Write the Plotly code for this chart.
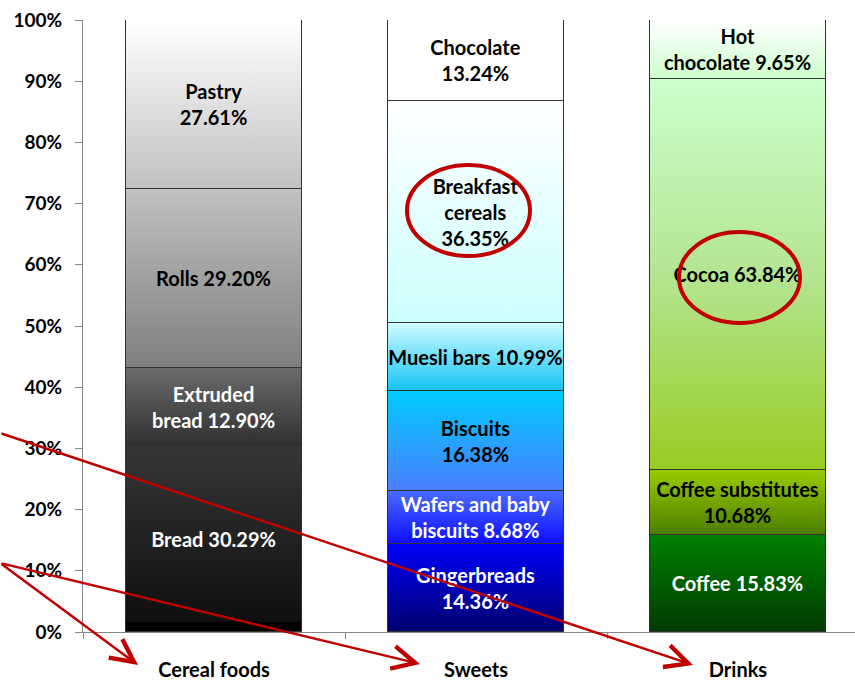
import plotly.graph_objects as go

# ---------------- data ----------------
categories = ["Cereal foods", "Sweets", "Drinks"]

cereal_labels = ["Bread", "Extruded<br>bread", "Rolls", "Pastry<br>"]
cereal_values = [30.29, 12.90, 29.20, 27.61]

sweets_labels = ["Gingerbreads<br>", "Wafers and baby<br>biscuits", "Biscuits<br>",
                 "Muesli bars", "Breakfast<br>cereals<br>", "Chocolate<br>"]
sweets_values = [14.36, 8.68, 16.38, 10.99, 36.35, 13.24]

drinks_labels = ["Coffee", "Coffee substitutes<br>", "Cocoa", "Hot<br>chocolate"]
drinks_values = [15.83, 10.68, 63.84, 9.65]

y_ticks = [0, 10, 20, 30, 40, 50, 60, 70, 80, 90, 100]
y_tick_text = [f"{t}%" for t in y_ticks]

# ---------------- styles ----------------
W, H = 855, 680
ML, MR, MT, MB = 83, 0, 20, 48
BAR_W = 0.672
XR = [-0.5, -0.5 + (W - ML - MR) / 262.0]
FONT = "Lato"

grad_styles = [
    [  # cereal foods
        [[0, "#000000"], [0.05, "#000000"], [0.06, "#0f0f0f"], [1, "#363636"]],
        [[0, "#2f2f2f"], [1, "#6b6b6b"]],
        [[0, "#7f7f7f"], [1, "#c1c1c1"]],
        [[0, "#c0c0c0"], [1, "#ffffff"]],
    ],
    [  # sweets
        [[0, "#00006e"], [1, "#0000fa"]],
        [[0, "#0d0dff"], [1, "#4a6bff"]],
        [[0, "#4a7dff"], [1, "#00ccff"]],
        [[0, "#14c3f5"], [1, "#ccfbff"]],
        [[0, "#ccffff"], [1, "#ffffff"]],
        [[0, "#ffffff"], [1, "#ffffff"]],
    ],
    [  # drinks
        [[0, "#003a00"], [1, "#008000"]],
        [[0, "#4b7d00"], [1, "#99cc00"]],
        [[0, "#99cc22"], [0.5, "#b4e592"], [1, "#ccffcc"]],
        [[0, "#ccffcc"], [1, "#ffffff"]],
    ],
]
text_colors = [
    ["white", "white", "black", "black"],
    ["white", "white", "black", "black", "black", "black"],
    ["white", "black", "black", "black"],
]
RED = "#c00000"

groups = [
    (cereal_labels, cereal_values),
    (sweets_labels, sweets_values),
    (drinks_labels, drinks_values),
]

fig = go.Figure()

# gradient fills (base subplot, computed from the data)
for i, (labels, values) in enumerate(groups):
    bottom = 0.0
    for j, v in enumerate(values):
        top = bottom + v
        x0, x1 = i - BAR_W / 2, i + BAR_W / 2
        fig.add_trace(go.Scatter(
            x=[x0, x1, x1, x0, x0], y=[bottom, bottom, top, top, bottom],
            xaxis="x", yaxis="y", mode="lines", line=dict(width=0),
            fill="toself",
            fillgradient=dict(type="vertical", colorscale=grad_styles[i][j]),
            hoverinfo="skip", showlegend=False,
        ))
        bottom = top

# stacked bars (outline + labels) on the category axis overlay
for i, (labels, values) in enumerate(groups):
    for j, (lab, v) in enumerate(zip(labels, values)):
        sep = "" if lab.endswith("<br>") else " "
        txt = f"{lab}{sep}{v:.2f}%"
        fig.add_trace(go.Bar(
            x=[categories[i]], y=[v], xaxis="x2", yaxis="y",
            width=BAR_W,
            marker=dict(color="rgba(0,0,0,0)", line=dict(color="#333333", width=1)),
            text=[txt], textposition="inside", insidetextanchor="middle",
            textangle=0, constraintext="none",
            textfont=dict(family=FONT, size=20, color=text_colors[i][j], weight="bold"),
            hovertemplate=f"{categories[i]}: {v:.2f}%<extra></extra>",
            showlegend=False,
        ))

def px_x(p):
    return (p - ML) / (W - ML - MR)

def px_y(p):
    return (H - MB - p) / (H - MT - MB)

# red ellipses
for (ex0, ey0, ex1, ey1) in [(407, 165, 530, 256), (679, 232, 800, 323)]:
    fig.add_shape(type="circle", xref="paper", yref="paper",
                  x0=px_x(ex0), x1=px_x(ex1), y0=px_y(ey1), y1=px_y(ey0),
                  line=dict(color=RED, width=4), layer="above")

# red arrows
for (tipx, tipy, tailx, taily) in [(693, 665, 0, 433), (420, 664, 0, 563), (138, 665, 0, 563)]:
    fig.add_annotation(x=px_x(tipx), y=px_y(tipy), xref="paper", yref="paper",
                       axref="pixel", ayref="pixel", ax=tailx - tipx, ay=taily - tipy,
                       text="", showarrow=True, arrowhead=5, arrowsize=1.8,
                       arrowwidth=2.5, arrowcolor=RED)

fig.update_layout(
    width=W, height=H,
    margin=dict(l=ML, r=MR, t=MT, b=MB, autoexpand=False),
    paper_bgcolor="white", plot_bgcolor="white",
    barmode="stack", bargap=0,
    showlegend=False,
    xaxis=dict(range=XR, visible=False, showgrid=False, zeroline=False, automargin=False),
    xaxis2=dict(type="category", categoryorder="array", categoryarray=categories,
                overlaying="x", anchor="y", side="bottom", range=XR,
                tickson="boundaries", ticks="outside", ticklen=6, tickcolor="#868686",
                showline=True, linecolor="#868686", linewidth=1, automargin=False,
                showgrid=False, zeroline=False, ticklabelstandoff=20,
                tickfont=dict(family=FONT, size=20, color="black", weight="bold")),
    yaxis=dict(range=[0, 100], tickmode="array", tickvals=y_ticks, ticktext=y_tick_text,
               ticks="outside", ticklen=7, tickcolor="#868686", automargin=False,
               showline=True, linecolor="#868686", linewidth=1,
               showgrid=False, zeroline=False, ticklabelstandoff=9,
               tickfont=dict(family=FONT, size=19, color="black", weight="bold")),
)

fig.write_html("out.html",
               config={"displayModeBar": False},
               post_script="document.body.style.margin='0';document.body.style.overflow='hidden';")
